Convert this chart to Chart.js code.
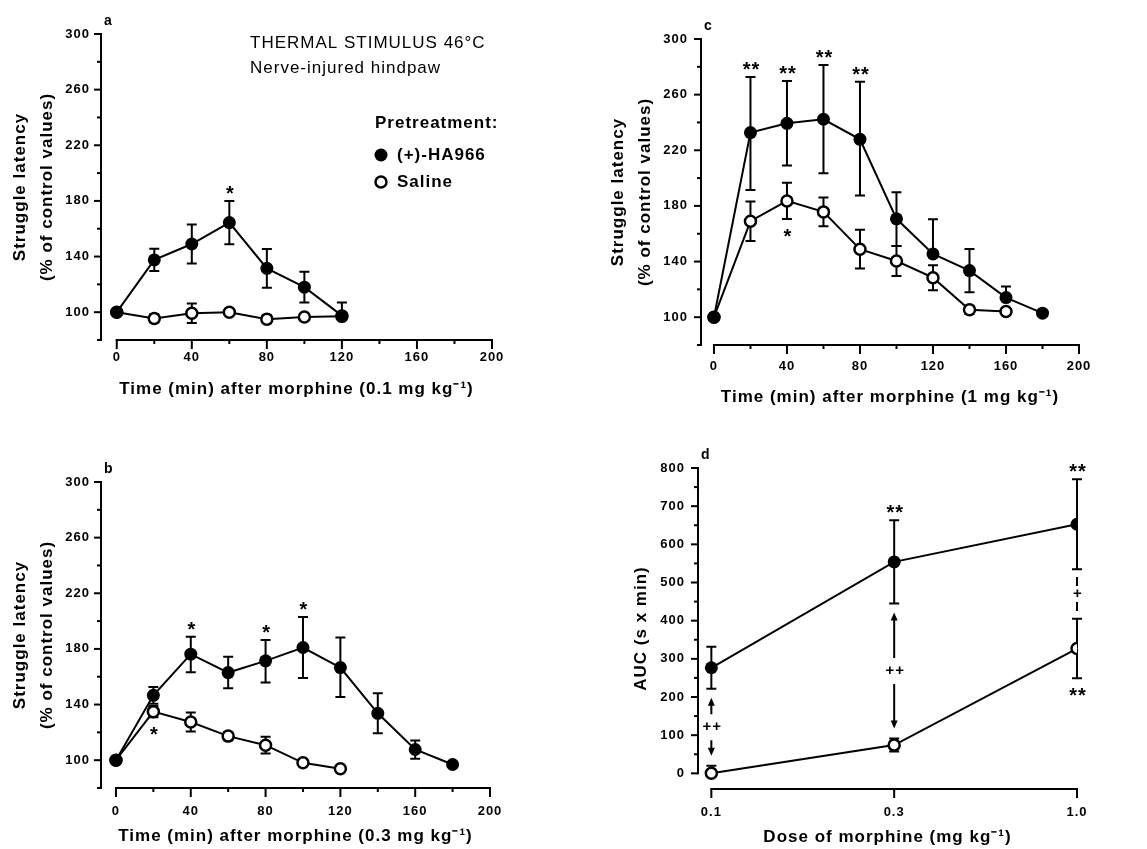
<!DOCTYPE html>
<html><head><meta charset="utf-8">
<script src="https://cdn.jsdelivr.net/npm/chart.js@4.4.1/dist/chart.umd.min.js"></script>
<style>
html,body{margin:0;padding:0;background:#fff;}
body{width:1147px;height:849px;position:relative;overflow:hidden;}
canvas{position:absolute;display:block;}
</style></head><body>
<canvas id="ca" width="570" height="420" style="left:0;top:0"></canvas>
<canvas id="cc" width="577" height="420" style="left:570px;top:0"></canvas>
<canvas id="cb" width="570" height="429" style="left:0;top:420px"></canvas>
<canvas id="cd" width="577" height="429" style="left:570px;top:420px"></canvas>
<script>
// ---------------- DATA ----------------
const timeTicks = [0, 40, 80, 120, 160, 200];
const latencyTicks = [100, 140, 180, 220, 260, 300];
const aucTicks = [0, 100, 200, 300, 400, 500, 600, 700, 800];
const doseLabels = ['0.1', '0.3', '1.0'];
const doseIdx = [0, 1, 2];
const haLabel = '(+)-HA966';
const salLabel = 'Saline';

// panel a: 0.1 mg/kg
const timeA = [0, 20, 40, 60, 80, 100, 120];
const aHa = [100, 137.6, 149, 164.4, 131.5, 118, 97.5];
const aHaErrUp = [0, 8, 14, 15.5, 14, 11, 9.5];
const aHaErrDn = [0, 8, 14, 15.5, 14, 11, 0];
const aHaStars = ['', '', '', '*', '', '', ''];
const aSal = [100, 95.5, 99.3, 100, 95, 96.5, 97];
const aSalErr = [0, 3, 7, 2, 3, 2, 0];

// panel b: 0.3 mg/kg
const timeBHa = [0, 20, 40, 60, 80, 100, 120, 140, 160, 180];
const bHa = [100, 146.6, 176.2, 163, 171.4, 181, 166.6, 133.7, 107.7, 96.9];
const bHaErrUp = [0, 6, 12.5, 11.3, 15, 22, 21.6, 14.4, 6.5, 0];
const bHaErrDn = [0, 6, 13, 11.3, 15.5, 22, 21.2, 14.4, 6.7, 0];
const bHaStars = ['', '', '*', '', '*', '*', '', '', '', ''];
const timeBSal = [0, 20, 40, 60, 80, 100, 120];
const bSal = [100, 134.9, 127.4, 117.3, 110.8, 98.1, 93.8];
const bSalErr = [0, 4, 6.8, 3, 6, 1, 0];
const bSalStars = ['', '*', '', '', '', '', ''];

// panel c: 1 mg/kg
const timeCHa = [0, 20, 40, 60, 80, 100, 120, 140, 160, 180];
const cHa = [100, 232.7, 239.4, 242.3, 227.9, 170.7, 145.5, 133.5, 114.1, 102.9];
const cHaErrUp = [0, 40, 30.4, 39, 41.4, 19.2, 24.9, 15.6, 7.9, 0];
const cHaErrDn = [0, 41.2, 30.4, 38.8, 40.5, 19.5, 0, 15.6, 0, 0];
const cHaStars = ['', '**', '**', '**', '**', '', '', '', '', ''];
const timeCSal = [0, 20, 40, 60, 80, 100, 120, 140, 160];
const cSal = [100, 169, 183.6, 175.7, 148.9, 140.4, 128.4, 105.3, 104.1];
const cSalErr = [0, 14.2, 13, 10.3, 13.9, 10.8, 9, 3, 0];
const cSalStars = ['', '', '*', '', '', '', '', '', ''];

// panel d: AUC vs dose
const dHa = [276.6, 554, 652.7];
const dHaErr = [55, 109, 118];
const dHaStars = ['', '**', '**'];
const dSal = [0, 74, 327];
const dSalErrUp = [20, 17, 78];
const dSalErrDn = [0, 17, 78];
const dSalStars = ['', '', '**'];
const dBetween = ['++', '++', '+'];

// ---------------- HELPERS ----------------
const FONT = "'Liberation Sans', Arial, Helvetica, sans-serif";
Chart.defaults.font.family = FONT;
Chart.defaults.color = '#000';

const pts = (xs, ys) => xs.map((x, i) => ({x: x, y: ys[i]}));

function haSet(xs, ys, up, dn, stars) {
  return {label: haLabel, data: pts(xs, ys), errUp: up, errDn: dn, starsUp: stars,
    borderColor: '#000', borderWidth: 2, tension: 0, fill: false,
    pointRadius: 6.5, pointBackgroundColor: '#000', pointBorderColor: '#000', pointBorderWidth: 0,
    order: 0};
}
function salSet(xs, ys, up, dn, stars) {
  return {label: salLabel, data: pts(xs, ys), errUp: up, errDn: dn, starsDn: stars,
    borderColor: '#000', borderWidth: 2, tension: 0, fill: false,
    pointRadius: 5.5, pointBackgroundColor: '#fff', pointBorderColor: '#000', pointBorderWidth: 2.5,
    order: 1};
}

const spacingPlugin = {
  id: 'spacing',
  beforeUpdate(chart) { chart.ctx.letterSpacing = '1px'; },
  beforeDraw(chart) { chart.ctx.letterSpacing = '1px'; }
};

const axisPlugin = {
  id: 'sciAxes',
  afterDraw(chart, args, o) {
    const ctx = chart.ctx, xs = chart.scales.x, ys = chart.scales.y, ca = chart.chartArea;
    ctx.save();
    ctx.strokeStyle = '#000'; ctx.lineWidth = 2; ctx.lineCap = 'butt';
    const yt = ys.getPixelForValue(o.yRange[1]), yb = ys.getPixelForValue(o.yRange[0]);
    ctx.beginPath(); ctx.moveTo(ca.left, yt - 1); ctx.lineTo(ca.left, yb + 1); ctx.stroke();
    for (let v = o.yRange[0]; v <= o.yRange[1] + 1e-6; v += o.yMinor) {
      const p = ys.getPixelForValue(v);
      const len = o.yMajor.includes(v) ? 7 : 4;
      ctx.beginPath(); ctx.moveTo(ca.left, p); ctx.lineTo(ca.left - len, p); ctx.stroke();
    }
    const xl = xs.getPixelForValue(o.xRange[0]), xr = xs.getPixelForValue(o.xRange[1]);
    ctx.beginPath(); ctx.moveTo(xl - 1, ca.bottom); ctx.lineTo(xr + 1, ca.bottom); ctx.stroke();
    for (let v = o.xRange[0]; v <= o.xRange[1] + 1e-6; v += o.xMinor) {
      const p = xs.getPixelForValue(v);
      const len = o.xMajor.includes(v) ? 9 : 4;
      ctx.beginPath(); ctx.moveTo(p, ca.bottom); ctx.lineTo(p, ca.bottom + len); ctx.stroke();
    }
    // panel letter
    ctx.fillStyle = '#000';
    ctx.font = 'bold 14px ' + FONT;
    ctx.textAlign = 'left'; ctx.textBaseline = 'middle';
    ctx.fillText(o.letter, ca.left + 3, ca.top - 13);
    ctx.restore();
  }
};

const errPlugin = {
  id: 'errBars',
  beforeDatasetsDraw(chart) {
    const ctx = chart.ctx, xs = chart.scales.x, ys = chart.scales.y;
    ctx.save(); ctx.strokeStyle = '#000'; ctx.lineWidth = 2;
    chart.data.datasets.forEach(ds => {
      ds.data.forEach((pt, i) => {
        const px = xs.getPixelForValue(pt.x), y0 = ys.getPixelForValue(pt.y);
        [[ds.errUp ? ds.errUp[i] : 0, 1], [ds.errDn ? ds.errDn[i] : 0, -1]].forEach(([e, s]) => {
          if (!e) return;
          const y1 = ys.getPixelForValue(pt.y + s * e);
          ctx.beginPath(); ctx.moveTo(px, y0); ctx.lineTo(px, y1);
          ctx.moveTo(px - 5, y1); ctx.lineTo(px + 5, y1); ctx.stroke();
        });
      });
    });
    ctx.restore();
  },
  afterDatasetsDraw(chart) {
    const ctx = chart.ctx, xs = chart.scales.x, ys = chart.scales.y;
    ctx.save(); ctx.fillStyle = '#000';
    ctx.font = 'bold 20px ' + FONT; ctx.textAlign = 'center'; ctx.textBaseline = 'alphabetic';
    chart.data.datasets.forEach(ds => {
      ds.data.forEach((pt, i) => {
        const px = xs.getPixelForValue(pt.x);
        if (ds.starsUp && ds.starsUp[i]) {
          const yc = ys.getPixelForValue(pt.y + (ds.errUp ? ds.errUp[i] : 0));
          ctx.fillText(ds.starsUp[i], px + 1, yc - 1);
        }
        if (ds.starsDn && ds.starsDn[i]) {
          const yc = ys.getPixelForValue(pt.y - (ds.errDn ? ds.errDn[i] : 0));
          ctx.fillText(ds.starsDn[i], px + 1, yc + 24);
        }
      });
    });
    ctx.restore();
  }
};

const betweenPlugin = {
  id: 'between',
  afterDatasetsDraw(chart, args, o) {
    if (!o || !o.labels) return;
    const ctx = chart.ctx, xs = chart.scales.x, ys = chart.scales.y;
    const ha = chart.data.datasets[0], sal = chart.data.datasets[1];
    ctx.save(); ctx.fillStyle = '#000'; ctx.strokeStyle = '#000'; ctx.lineWidth = 2;
    ctx.font = 'bold 15px ' + FONT; ctx.textAlign = 'center'; ctx.textBaseline = 'middle';
    o.labels.forEach((lab, i) => {
      const px = xs.getPixelForValue(ha.data[i].x);
      const top = ys.getPixelForValue(ha.data[i].y - ha.errDn[i]);
      const bot = ys.getPixelForValue(sal.data[i].y + sal.errUp[i]);
      const mid = (top + bot) / 2;
      ctx.fillText(lab, px + 1, mid);
      if (o.styles[i] === 'arrow') {
        const a1 = top + 9, a2 = bot - 10;
        ctx.beginPath(); ctx.moveTo(px, mid - 13); ctx.lineTo(px, a1 + 6); ctx.stroke();
        ctx.beginPath(); ctx.moveTo(px, a1); ctx.lineTo(px - 3.5, a1 + 8); ctx.lineTo(px + 3.5, a1 + 8); ctx.closePath(); ctx.fill();
        ctx.beginPath(); ctx.moveTo(px, mid + 13); ctx.lineTo(px, a2 - 6); ctx.stroke();
        ctx.beginPath(); ctx.moveTo(px, a2); ctx.lineTo(px - 3.5, a2 - 8); ctx.lineTo(px + 3.5, a2 - 8); ctx.closePath(); ctx.fill();
      } else {
        ctx.beginPath(); ctx.moveTo(px, mid - 17); ctx.lineTo(px, mid - 8);
        ctx.moveTo(px, mid + 8); ctx.lineTo(px, mid + 17); ctx.stroke();
      }
    });
    ctx.restore();
  }
};

const legendPlugin = {
  id: 'sciLegend',
  afterDraw(chart, args, o) {
    if (!o || !o.show) return;
    const ctx = chart.ctx;
    ctx.save(); ctx.fillStyle = '#000'; ctx.textAlign = 'left'; ctx.textBaseline = 'middle';
    ctx.font = '17px ' + FONT;
    o.titleLines.forEach((t, i) => ctx.fillText(t, o.titleX, o.titleY + i * 25));
    ctx.font = 'bold 17px ' + FONT;
    ctx.fillText(o.header, o.x, o.y);
    chart.data.datasets.forEach((ds, i) => {
      const y = o.y + 32 + i * 27;
      ctx.beginPath(); ctx.arc(o.x + 6, y, ds.pointRadius, 0, Math.PI * 2);
      ctx.fillStyle = ds.pointBackgroundColor; ctx.fill();
      if (ds.pointBorderWidth) { ctx.lineWidth = ds.pointBorderWidth; ctx.strokeStyle = '#000'; ctx.stroke(); }
      ctx.fillStyle = '#000';
      ctx.fillText(ds.label, o.x + 22, y);
    });
    ctx.restore();
  }
};

function panel(id, o) {
  return new Chart(document.getElementById(id), {
    type: 'line',
    data: {datasets: o.datasets},
    options: {
      responsive: false, animation: false, devicePixelRatio: 1,
      layout: {padding: {left: 0, top: o.top, right: o.right, bottom: 0}},
      plugins: {
        legend: {display: false}, tooltip: {enabled: false},
        sciAxes: o.axes, between: o.between || {}, sciLegend: o.legend || {}
      },
      scales: {
        x: {
          type: 'linear', min: o.xMin, max: o.xMax,
          afterFit: s => { s.height = o.xH; },
          afterBuildTicks: s => { s.ticks = o.xTicks.map(v => ({value: v})); },
          grid: {display: false, drawTicks: false}, border: {display: false},
          ticks: {padding: o.xPad, autoSkip: false, maxRotation: 0, font: {size: 13, weight: 'bold'}, color: '#000',
            callback: o.xCb || (v => String(v))},
          title: {display: true, text: o.xTitle, color: '#000',
            font: {size: 17, weight: 'bold', lineHeight: 1.2}, padding: {top: 0, bottom: o.xTitlePad}}
        },
        y: {
          type: 'linear', min: o.yMin, max: o.yMax,
          afterFit: s => { s.width = o.yW; },
          afterBuildTicks: s => { s.ticks = o.yTicks.map(v => ({value: v})); },
          grid: {display: false, drawTicks: false}, border: {display: false},
          ticks: {padding: o.yPad, autoSkip: false, font: {size: 13, weight: 'bold'}, color: '#000'},
          title: {display: true, text: o.yTitle, color: '#000',
            font: {size: 17, weight: 'bold', lineHeight: 27 / 17}, padding: {top: o.yTitlePad, bottom: 0}}
        }
      }
    },
    plugins: [spacingPlugin, axisPlugin, errPlugin, betweenPlugin, legendPlugin]
  });
}

const latTitle = ['Struggle latency', '(% of control values)'];

panel('ca', {
  datasets: [haSet(timeA, aHa, aHaErrUp, aHaErrDn, aHaStars), salSet(timeA, aSal, aSalErr, aSalErr, null)],
  top: 34, right: 78, xH: 80, yW: 101,
  xMin: -8.4, xMax: 200, yMin: 80, yMax: 300,
  xTicks: timeTicks, yTicks: latencyTicks, xPad: 10, yPad: 11,
  xTitle: 'Time (min) after morphine (0.1 mg kg\u207B\u00B9)', xTitlePad: 20,
  yTitle: latTitle, yTitlePad: 7,
  axes: {letter: 'a', yRange: [80, 300], yMinor: 20, yMajor: latencyTicks, xRange: [0, 200], xMinor: 20, xMajor: timeTicks},
  legend: {show: true, titleLines: ['THERMAL STIMULUS 46\u00B0C', 'Nerve-injured hindpaw'], titleX: 250, titleY: 43,
    header: 'Pretreatment:', x: 375, y: 123}
});

panel('cc', {
  datasets: [haSet(timeCHa, cHa, cHaErrUp, cHaErrDn, cHaStars), salSet(timeCSal, cSal, cSalErr, cSalErr, cSalStars)],
  top: 39, right: 68, xH: 75, yW: 131,
  xMin: -7.1, xMax: 200, yMin: 80, yMax: 300,
  xTicks: timeTicks, yTicks: latencyTicks, xPad: 14, yPad: 13,
  xTitle: 'Time (min) after morphine (1 mg kg\u207B\u00B9)', xTitlePad: 12,
  yTitle: latTitle, yTitlePad: 35,
  axes: {letter: 'c', yRange: [80, 300], yMinor: 20, yMajor: latencyTicks, xRange: [0, 200], xMinor: 20, xMajor: timeTicks}
});

panel('cb', {
  datasets: [haSet(timeBHa, bHa, bHaErrUp, bHaErrDn, bHaStars), salSet(timeBSal, bSal, bSalErr, bSalErr, bSalStars)],
  top: 62, right: 80, xH: 61, yW: 101,
  xMin: -8.0, xMax: 200, yMin: 80, yMax: 300,
  xTicks: timeTicks, yTicks: latencyTicks, xPad: 16, yPad: 11,
  xTitle: 'Time (min) after morphine (0.3 mg kg\u207B\u00B9)', xTitlePad: 2,
  yTitle: latTitle, yTitlePad: 7,
  axes: {letter: 'b', yRange: [80, 300], yMinor: 20, yMajor: latencyTicks, xRange: [0, 200], xMinor: 20, xMajor: timeTicks}
});

panel('cd', {
  datasets: [haSet(doseIdx, dHa, dHaErr, dHaErr, dHaStars), salSet(doseIdx, dSal, dSalErrUp, dSalErrDn, dSalStars)],
  top: 48, right: 70, xH: 60, yW: 128,
  xMin: -0.073, xMax: 2, yMin: -41, yMax: 800,
  xTicks: doseIdx, yTicks: aucTicks, xPad: 16, yPad: 13,
  xCb: v => doseLabels[v],
  xTitle: 'Dose of morphine (mg kg\u207B\u00B9)', xTitlePad: 1,
  yTitle: 'AUC (s x min)', yTitlePad: 58,
  axes: {letter: 'd', yRange: [0, 800], yMinor: 50, yMajor: aucTicks, xRange: [0, 2], xMinor: 1, xMajor: doseIdx},
  between: {labels: dBetween, styles: ['arrow', 'arrow', 'dash']}
});
</script>
</body></html>
